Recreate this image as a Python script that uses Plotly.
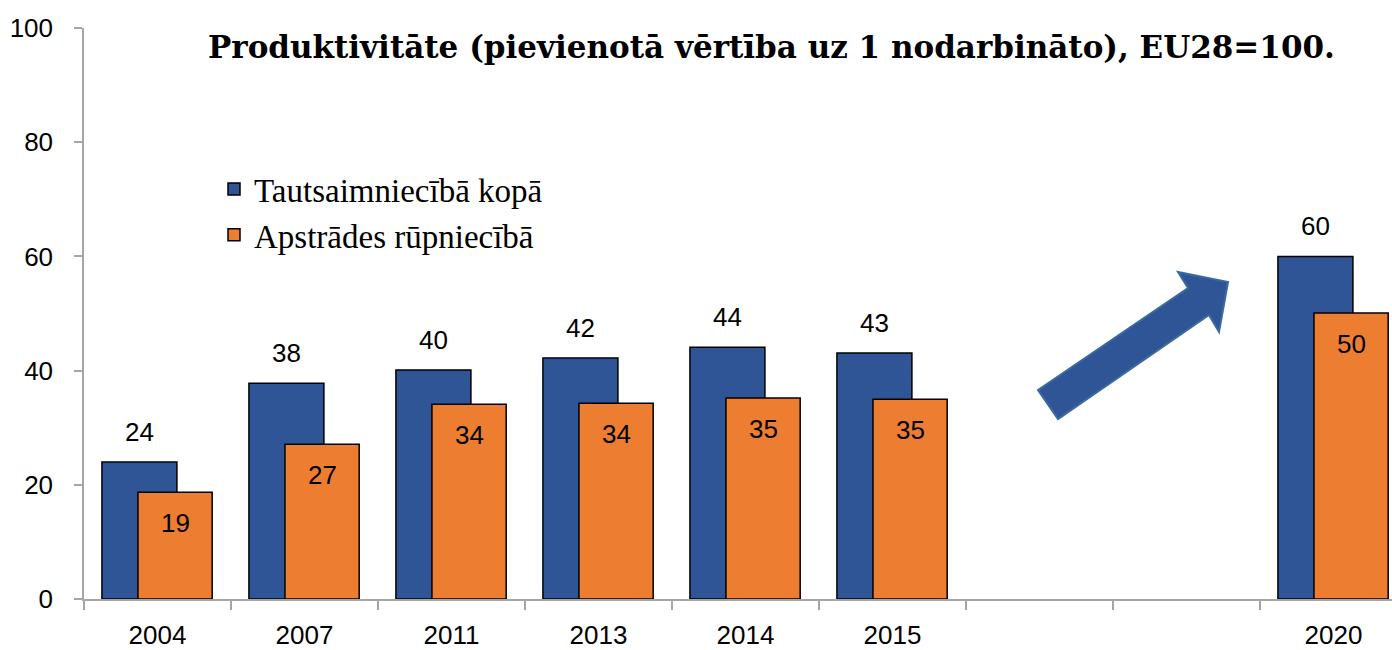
import plotly.graph_objects as go

categories = ["2004", "2007", "2011", "2013", "2014", "2015", " ", "  ", "2020"]
total_economy = [24.0, 37.8, 40.1, 42.2, 44.1, 43.1, None, None, 60.0]
manufacturing = [18.7, 27.1, 34.1, 34.3, 35.2, 35.0, None, None, 50.1]
series_names = ["Tautsaimniecībā kopā", "Apstrādes rūpniecībā"]
title_text = "Produktivitāte (pievienotā vērtība uz 1 nodarbināto), EU28=100."

BLUE = "#2F5597"
ORANGE = "#ED7D31"
SANS = "Liberation Sans, Arial, sans-serif"
SERIF = "Liberation Serif, DejaVu Serif, serif"
TITLE_FONT = "DejaVu Serif, Liberation Serif, serif"

W, H = 1392, 650
L, R_PX, T, B = 84, 1392, 28, 599
cat_px = 147.0
x_end = -0.5 + (R_PX - L) / cat_px

fig = go.Figure()
fig.add_trace(go.Bar(
    x=categories, y=total_economy, name=series_names[0],
    marker=dict(color=BLUE, line=dict(color="black", width=1.5)),
    width=0.51, offset=-0.378,
))
fig.add_trace(go.Bar(
    x=categories, y=manufacturing, name=series_names[1],
    marker=dict(color=ORANGE, line=dict(color="black", width=1.5)),
    width=0.505, offset=-0.133,
))

# data labels
for i, v in enumerate(total_economy):
    if v is None:
        continue
    fig.add_annotation(x=i, y=v, xref="x", yref="y", text=f"{round(v):d}", showarrow=False,
                       xshift=-18, yshift=30, font=dict(family=SANS, size=26, color="black"))
for i, v in enumerate(manufacturing):
    if v is None:
        continue
    fig.add_annotation(x=i, y=v, xref="x", yref="y", text=f"{round(v):d}", showarrow=False,
                       xshift=18, yshift=-31, font=dict(family=SANS, size=26, color="black"))

# arrow decoration (pixel -> paper)
def px(x, y):
    return ((x - L) / (R_PX - L), (B - y) / (B - T))

pts = [(1038, 390), (1188, 288), (1178, 272), (1228, 282), (1219, 332), (1209, 315), (1058, 419)]
path = "M " + " L ".join(f"{px(a, b)[0]:.5f},{px(a, b)[1]:.5f}" for a, b in pts) + " Z"
fig.add_shape(type="path", path=path, xref="paper", yref="paper",
              fillcolor=BLUE, line=dict(color="#3A6A9E", width=2))

fig.add_annotation(text=title_text, xref="paper", yref="paper",
                   x=(771 - L) / (R_PX - L), y=(B - 47) / (B - T), showarrow=False,
                   xanchor="center", yanchor="middle",
                   font=dict(family=TITLE_FONT, size=31, color="black", weight="bold"))

fig.update_layout(
    width=W, height=H,
    margin=dict(l=L, r=W - R_PX, t=T, b=H - B, pad=0),
    paper_bgcolor="white", plot_bgcolor="white",
    barmode="overlay",
    showlegend=True,
    legend=dict(x=(214 - L) / (R_PX - L), y=(B - 161) / (B - T), xanchor="left", yanchor="top",
                font=dict(family=SERIF, size=33, color="black"),
                bgcolor="rgba(0,0,0,0)", tracegroupgap=0),
    xaxis=dict(type="category", categoryorder="array", categoryarray=categories,
               range=[-0.5, x_end], tickson="boundaries",
               showline=True, linecolor="#A6A6A6", linewidth=1.5,
               ticks="outside", ticklen=9, tickcolor="#A6A6A6", tickwidth=1.5,
               showgrid=False, zeroline=False, ticklabelstandoff=12,
               tickfont=dict(family=SANS, size=26, color="black")),
    yaxis=dict(range=[0, 100], tickvals=[0, 20, 40, 60, 80, 100],
               showline=True, linecolor="#A6A6A6", linewidth=1.5,
               ticks="outside", ticklen=8, tickcolor="#A6A6A6", tickwidth=1.5,
               showgrid=False, zeroline=False, ticklabelstandoff=16,
               tickfont=dict(family=SANS, size=26, color="black")),
)

fig.write_html("out.html", config={"displayModeBar": False},
               post_script="document.body.style.margin='0';document.body.style.overflow='hidden';")
